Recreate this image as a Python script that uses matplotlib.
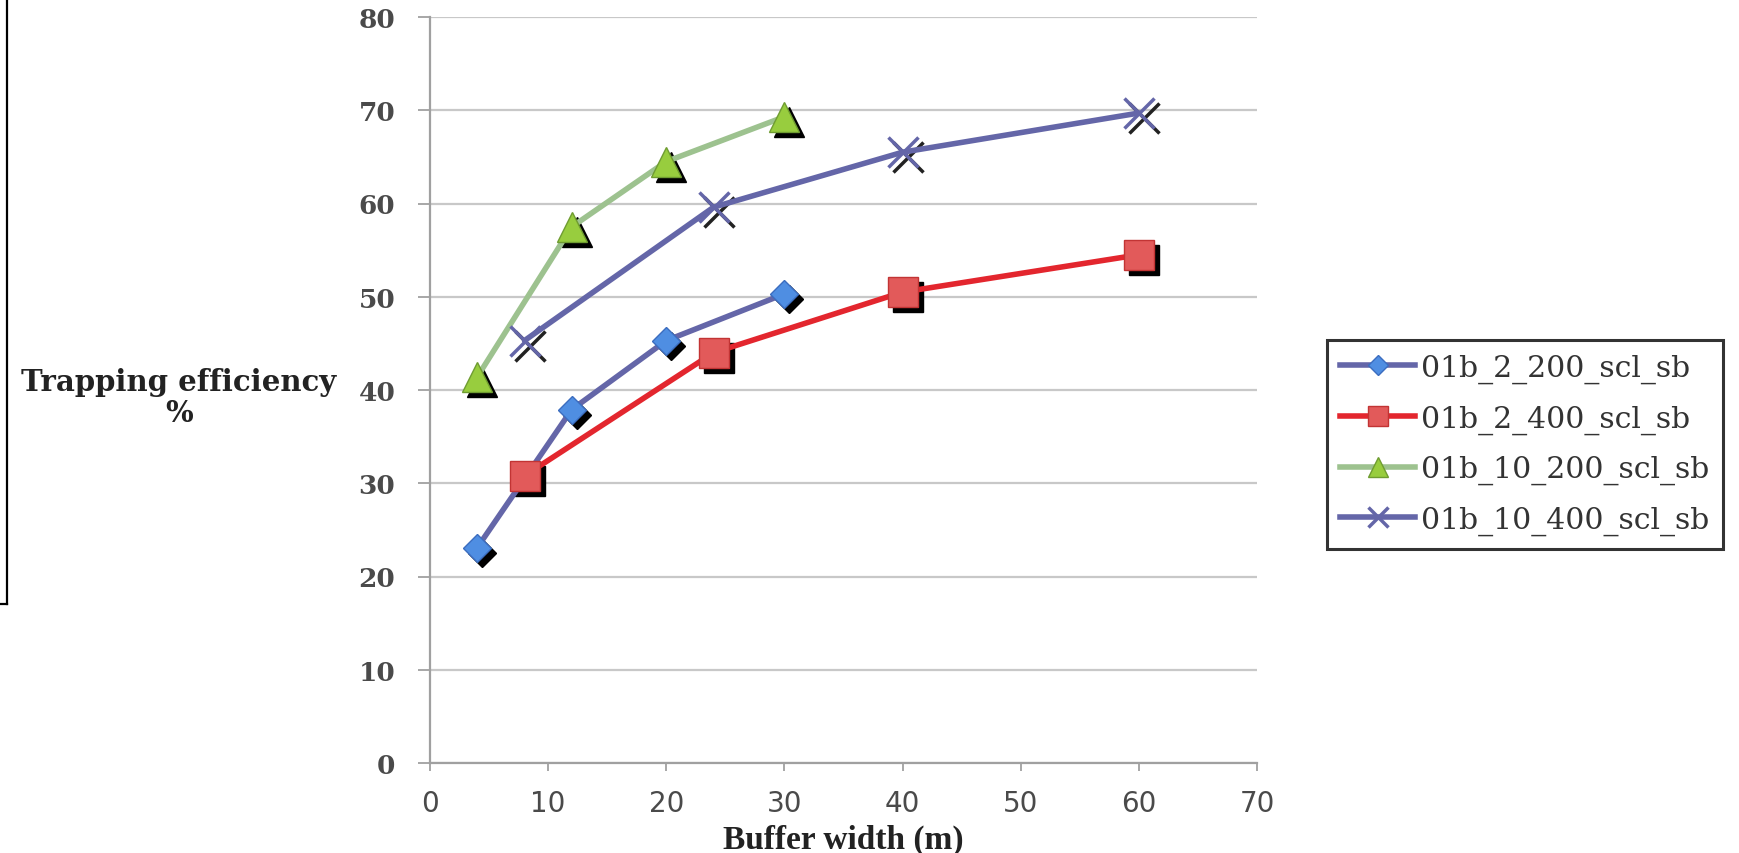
import matplotlib
matplotlib.use("Agg")
import matplotlib.pyplot as plt
from matplotlib.lines import Line2D
from matplotlib.transforms import offset_copy

# buffer widths (m) for the two slope lengths
width_200 = [4, 12, 20, 30]
width_400 = [8, 24, 40, 60]

# trapping efficiency (%)
eff_2_200 = [23.1, 37.9, 45.3, 50.3]
eff_2_400 = [30.8, 44.0, 50.5, 54.5]
eff_10_200 = [41.4, 57.5, 64.5, 69.3]
eff_10_400 = [45.3, 59.6, 65.5, 69.7]

labels = ["01b_2_200_scl_sb", "01b_2_400_scl_sb", "01b_10_200_scl_sb", "01b_10_400_scl_sb"]
x_ticks = [0, 10, 20, 30, 40, 50, 60, 70]
y_ticks = [0, 10, 20, 30, 40, 50, 60, 70, 80]

W, H = 1739, 854
fig = plt.figure(figsize=(W / 100, H / 100), dpi=100)
ax = fig.add_axes([430 / W, 1 - 764 / H, 827 / W, 746 / H])

shadow = offset_copy(ax.transData, fig=fig, x=5, y=-5, units="dots")

series = [
    # x, y, line colour, marker, marker size, face, edge
    (width_200, eff_2_200, "#6466a8", "D", 14, "#4f8ee2", "#3b6dbf"),
    (width_400, eff_2_400, "#e3262e", "s", 21, "#e25a5a", "#c23434"),
    (width_200, eff_10_200, "#9dc28f", "^", 22, "#98cd3e", "#6f9c31"),
    (width_400, eff_10_400, "#6466a8", "x", 22, "#6466a8", "#6466a8"),
]

for x, y, lc, mk, ms, fc, ec in series:
    # black drop shadow under markers
    if mk == "x":
        ax.plot(x, y, ls="none", marker=mk, ms=ms, mew=2.5, color="#222222",
                transform=shadow, zorder=3)
    else:
        ax.plot(x, y, ls="none", marker=mk, ms=ms, mfc="black", mec="black",
                transform=shadow, zorder=3)
    ax.plot(x, y, color=lc, lw=4, solid_capstyle="round", zorder=4)
    if mk == "x":
        ax.plot(x, y, ls="none", marker=mk, ms=ms, mew=2.5, color=fc, zorder=5)
    else:
        ax.plot(x, y, ls="none", marker=mk, ms=ms, mfc=fc, mec=ec, mew=1, zorder=5)

ax.set_xlim(0, 70)
ax.set_ylim(0, 80)
ax.set_xticks(x_ticks)
ax.set_yticks(y_ticks)
ax.yaxis.grid(True, color="#c8c8c8", lw=1.6)
ax.set_axisbelow(True)
for s in ["top", "right"]:
    ax.spines[s].set_visible(False)
for s in ["left", "bottom"]:
    ax.spines[s].set_color("#a0a0a0")
    ax.spines[s].set_linewidth(1.6)

ax.tick_params(axis="y", direction="out", length=9, width=1.3, color="#a0a0a0",
               pad=16, labelsize=19, labelcolor="#4a4a4a")
ax.tick_params(axis="x", direction="out", length=6, width=1.3, color="#a0a0a0",
               pad=13, labelsize=20, labelcolor="#4a4a4a")
for t in ax.get_yticklabels():
    t.set_fontfamily("DejaVu Serif")
    t.set_fontweight("bold")
for t in ax.get_xticklabels():
    t.set_fontfamily("DejaVu Sans")

# axis titles placed in figure pixels
fig.text(843 / W, 1 - 840 / H, "Buffer width (m)", family="Liberation Serif",
         weight="bold", fontsize=24, ha="center", va="center", color="#222222")
fig.text(179 / W, 1 - 398 / H, "Trapping efficiency\n%", family="DejaVu Serif",
         weight="bold", fontsize=21, ha="center", va="center",
         multialignment="center", linespacing=1.12, color="#222222")

handles = [
    Line2D([], [], color=series[0][2], lw=4, marker="D", ms=10, mfc=series[0][5], mec=series[0][6]),
    Line2D([], [], color=series[1][2], lw=4, marker="s", ms=15, mfc=series[1][5], mec=series[1][6]),
    Line2D([], [], color=series[2][2], lw=4, marker="^", ms=14, mfc=series[2][5], mec=series[2][6]),
    Line2D([], [], color=series[3][2], lw=4, marker="x", ms=14, mew=2.5),
]
leg = fig.legend(handles, labels, loc="upper left", bbox_to_anchor=(1327 / W, 1 - 341 / H),
                 borderaxespad=0, frameon=True, fancybox=False,
                 prop={"family": "DejaVu Serif", "size": 21.5}, handlelength=2.5,
                 handletextpad=0.2, labelspacing=0.72, borderpad=0.45)
leg.get_frame().set_edgecolor("black")
leg.get_frame().set_linewidth(2.2)
for t in leg.get_texts():
    t.set_color("#333333")

# bracket line at the left edge
fig.add_artist(Line2D([7 / W, 7 / W], [1, 1 - 605 / H], color="black", lw=1.6,
                      transform=fig.transFigure))
fig.add_artist(Line2D([0, 7 / W], [1 - 605 / H, 1 - 605 / H], color="black", lw=1.6,
                      transform=fig.transFigure))

fig.savefig("out.png", dpi=100)
